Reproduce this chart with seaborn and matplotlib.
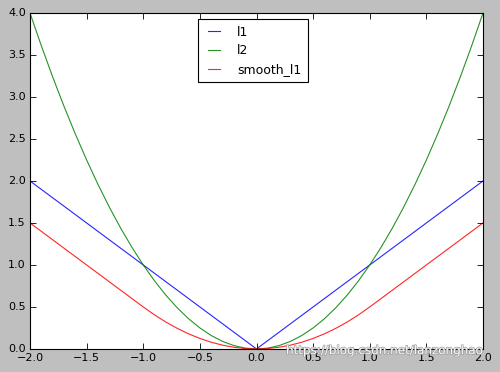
import matplotlib
matplotlib.use("Agg")
import matplotlib.pyplot as plt
import matplotlib.patheffects as pe
import seaborn as sns
import pandas as pd

x = [-2.0, -1.9, -1.8, -1.7, -1.6, -1.5, -1.4, -1.3, -1.2, -1.1, -1.0,
     -0.9, -0.8, -0.7, -0.6, -0.5, -0.4, -0.3, -0.2, -0.1, 0.0,
     0.1, 0.2, 0.3, 0.4, 0.5, 0.6, 0.7, 0.8, 0.9, 1.0,
     1.1, 1.2, 1.3, 1.4, 1.5, 1.6, 1.7, 1.8, 1.9, 2.0]
l1 = [2.0, 1.9, 1.8, 1.7, 1.6, 1.5, 1.4, 1.3, 1.2, 1.1, 1.0,
      0.9, 0.8, 0.7, 0.6, 0.5, 0.4, 0.3, 0.2, 0.1, 0.0,
      0.1, 0.2, 0.3, 0.4, 0.5, 0.6, 0.7, 0.8, 0.9, 1.0,
      1.1, 1.2, 1.3, 1.4, 1.5, 1.6, 1.7, 1.8, 1.9, 2.0]
l2 = [4.0, 3.61, 3.24, 2.89, 2.56, 2.25, 1.96, 1.69, 1.44, 1.21, 1.0,
      0.81, 0.64, 0.49, 0.36, 0.25, 0.16, 0.09, 0.04, 0.01, 0.0,
      0.01, 0.04, 0.09, 0.16, 0.25, 0.36, 0.49, 0.64, 0.81, 1.0,
      1.21, 1.44, 1.69, 1.96, 2.25, 2.56, 2.89, 3.24, 3.61, 4.0]
smooth_l1 = [1.5, 1.4, 1.3, 1.2, 1.1, 1.0, 0.9, 0.8, 0.7, 0.6, 0.5,
             0.405, 0.32, 0.245, 0.18, 0.125, 0.08, 0.045, 0.02, 0.005, 0.0,
             0.005, 0.02, 0.045, 0.08, 0.125, 0.18, 0.245, 0.32, 0.405, 0.5,
             0.6, 0.7, 0.8, 0.9, 1.0, 1.1, 1.2, 1.3, 1.4, 1.5]
series_names = ["l1", "l2", "smooth_l1"]
x_ticks = [-2.0, -1.5, -1.0, -0.5, 0.0, 0.5, 1.0, 1.5, 2.0]
y_ticks = [0.0, 0.5, 1.0, 1.5, 2.0, 2.5, 3.0, 3.5, 4.0]
watermark = "https://blog.csdn.net/lanzonghao"

plt.style.use("classic")
plt.rcParams["font.family"] = ["DejaVu Sans"]

df = pd.DataFrame({"x": x, "l1": l1, "l2": l2, "smooth_l1": smooth_l1})
colors = {"l1": (0, 0, 1), "l2": (0, 0.5, 0), "smooth_l1": (1, 0, 0)}

fig = plt.figure(figsize=(5.0, 3.72), dpi=100, facecolor="#bfbfbf")
ax = fig.add_axes([0.06, 0.062, 0.906, 0.903])
for name in series_names:
    sns.lineplot(data=df, x="x", y=name, ax=ax, color=colors[name],
                 linewidth=0.8, alpha=0.85, label=name)

ax.set_xlim(-2, 2)
ax.set_ylim(0, 4)
ax.set_xticks(x_ticks)
ax.set_yticks(y_ticks)
ax.set_xlabel("")
ax.set_ylabel("")
ax.tick_params(labelsize=8, direction="in", top=True, right=True,
               length=4, width=0.6, pad=3)
for s in ax.spines.values():
    s.set_linewidth(0.8)

leg = ax.legend(loc="upper center", bbox_to_anchor=(0.492, 0.981),
                fontsize=9, frameon=True, fancybox=False, shadow=False,
                handlelength=1.5, borderpad=0.5, labelspacing=0.45,
                handletextpad=1.1, borderaxespad=0.0)
leg.get_frame().set_linewidth(0.8)
leg.get_frame().set_edgecolor("black")

fig.text(0.572, 0.048, watermark, color="white", fontsize=8.6, alpha=0.95,
         path_effects=[pe.withStroke(linewidth=1.0, foreground="#999999")])

fig.savefig("out.png", dpi=100, facecolor=fig.get_facecolor())
